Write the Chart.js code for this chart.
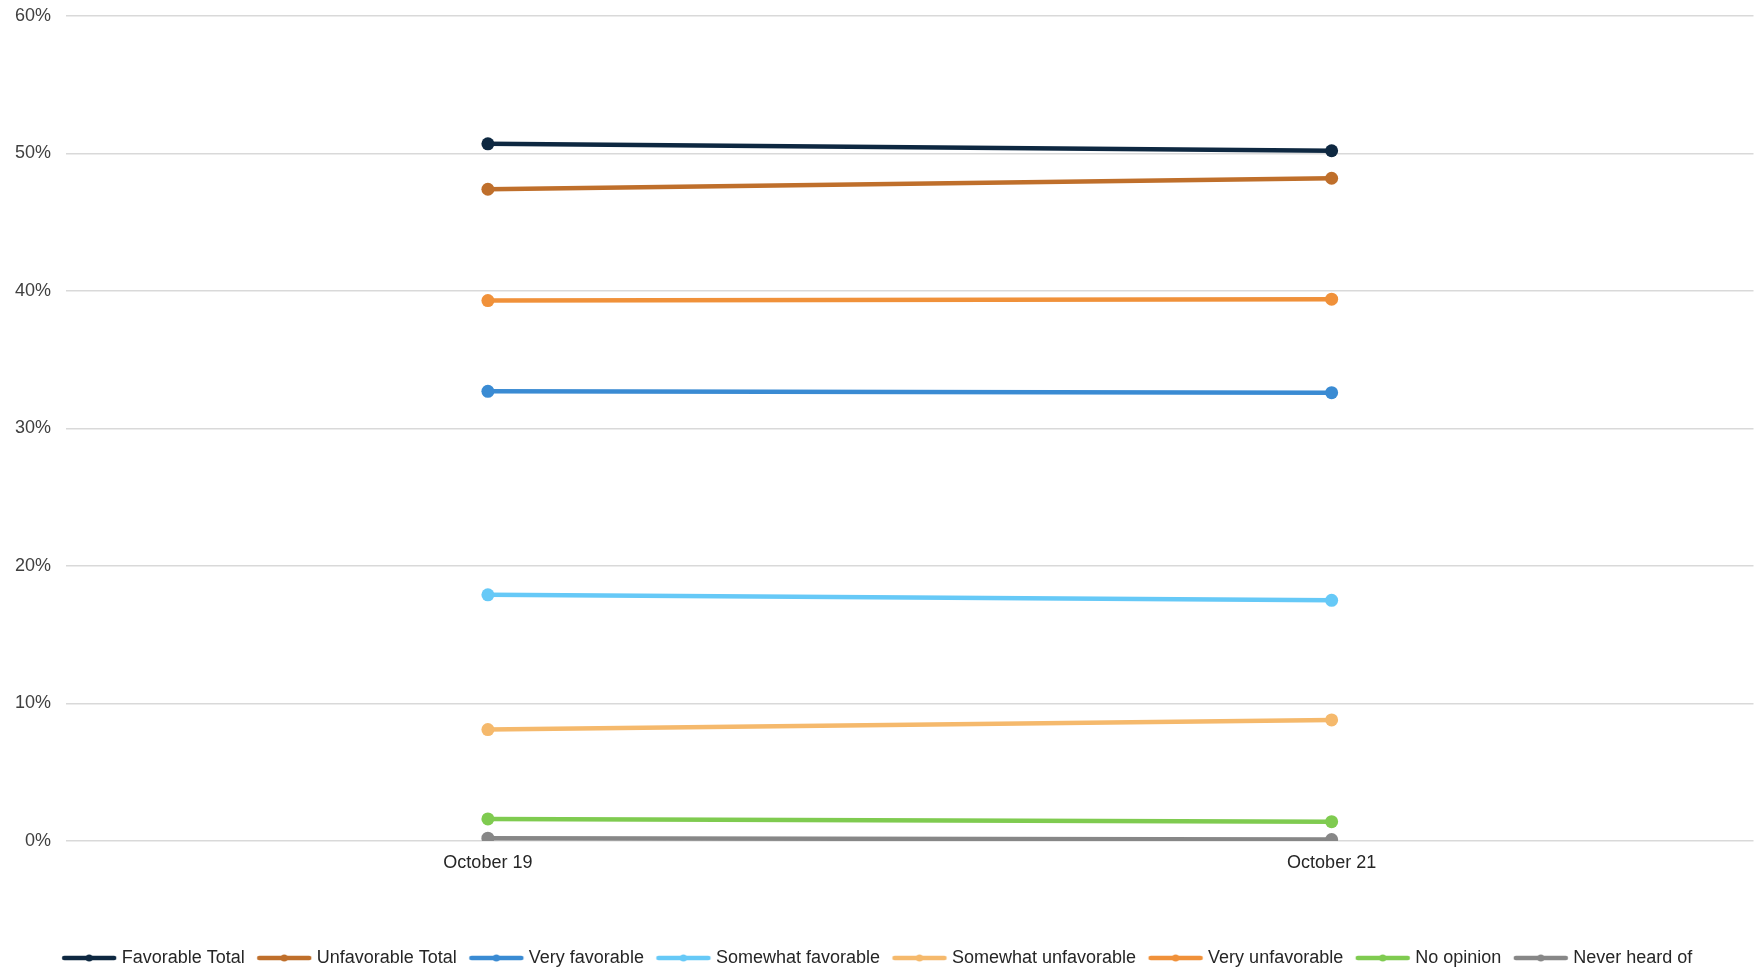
<!DOCTYPE html>
<html>
<head>
<meta charset="utf-8">
<script src="https://cdn.jsdelivr.net/npm/chart.js@4"></script>
<style>
  html, body { margin: 0; padding: 0; background: #fff; }
  #wrap { width: 1760px; height: 967px; }
</style>
</head>
<body>
<div id="wrap"><canvas id="favorability"></canvas></div>
<script>
const dates = ['October 19', 'October 21'];
const seriesNames = ['Favorable Total', 'Unfavorable Total', 'Very favorable', 'Somewhat favorable',
    'Somewhat unfavorable', 'Very unfavorable', 'No opinion', 'Never heard of'];
const favorableTotal = [50.7, 50.2];
const unfavorableTotal = [47.4, 48.2];
const veryFavorable = [32.7, 32.6];
const somewhatFavorable = [17.9, 17.5];
const somewhatUnfavorable = [8.1, 8.8];
const veryUnfavorable = [39.3, 39.4];
const noOpinion = [1.6, 1.4];
const neverHeard = [0.2, 0.1];
const yTicks = [0, 10, 20, 30, 40, 50, 60];

const seriesValues = [favorableTotal, unfavorableTotal, veryFavorable, somewhatFavorable,
    somewhatUnfavorable, veryUnfavorable, noOpinion, neverHeard];
const colors = ['#0e2841', '#bf6f2b', '#3a8bd3', '#66c9f7', '#f5b96c', '#f0913a', '#7fcb50', '#878787'];

// little line-with-dot icon for the legend, like the Excel one
function legendIcon(color) {
    const c = document.createElement('canvas');
    c.width = 60;
    c.height = 10;
    const ctx = c.getContext('2d');
    ctx.strokeStyle = color;
    ctx.lineWidth = 4.5;
    ctx.lineCap = 'round';
    ctx.beginPath();
    ctx.moveTo(5, 5);
    ctx.lineTo(55, 5);
    ctx.stroke();
    ctx.fillStyle = color;
    ctx.beginPath();
    ctx.arc(30, 5, 3.5, 0, Math.PI * 2);
    ctx.fill();
    return c;
}

Chart.defaults.font.family = 'Liberation Sans, Arial, sans-serif';
Chart.defaults.color = '#404040';

new Chart(
    document.getElementById('favorability'),
    {
        type: 'line',
        data: {
            labels: dates,
            datasets: seriesNames.map((name, i) => ({
                label: name,
                data: seriesValues[i],
                borderColor: colors[i],
                backgroundColor: colors[i],
                borderWidth: 4.5,
                pointRadius: 6.5,
                pointBorderWidth: 0,
                pointHoverRadius: 6.5,
                order: i
            }))
        },
        options: {
            responsive: true,
            maintainAspectRatio: false,
            animation: false,
            layout: { padding: { left: 0, right: 2, top: 0, bottom: -10 } },
            scales: {
                x: {
                    offset: true,
                    grid: { display: false },
                    border: { display: false },
                    ticks: { font: { size: 18 }, padding: 3, color: '#262626' },
                    afterFit: axis => { axis.height += 56.5; }
                },
                y: {
                    min: 0,
                    max: 60,
                    afterBuildTicks: axis => { axis.ticks = yTicks.map(v => ({ value: v })); },
                    afterFit: axis => { axis.paddingTop = 16; },
                    grid: { color: '#d9d9d9', lineWidth: 1.5, drawTicks: false },
                    border: { display: false },
                    ticks: { font: { size: 18 }, padding: 15, callback: v => v + '%' }
                }
            },
            plugins: {
                tooltip: { enabled: false },
                legend: {
                    position: 'bottom',
                    labels: {
                        usePointStyle: true,
                        pointStyleWidth: 47,
                        font: { size: 18 },
                        padding: 16,
                        color: '#262626',
                        generateLabels: chart => Chart.defaults.plugins.legend.labels.generateLabels(chart)
                            .map((item, i) => ({ ...item, pointStyle: legendIcon(colors[i]) }))
                    }
                }
            }
        }
    }
);
</script>
</body>
</html>
